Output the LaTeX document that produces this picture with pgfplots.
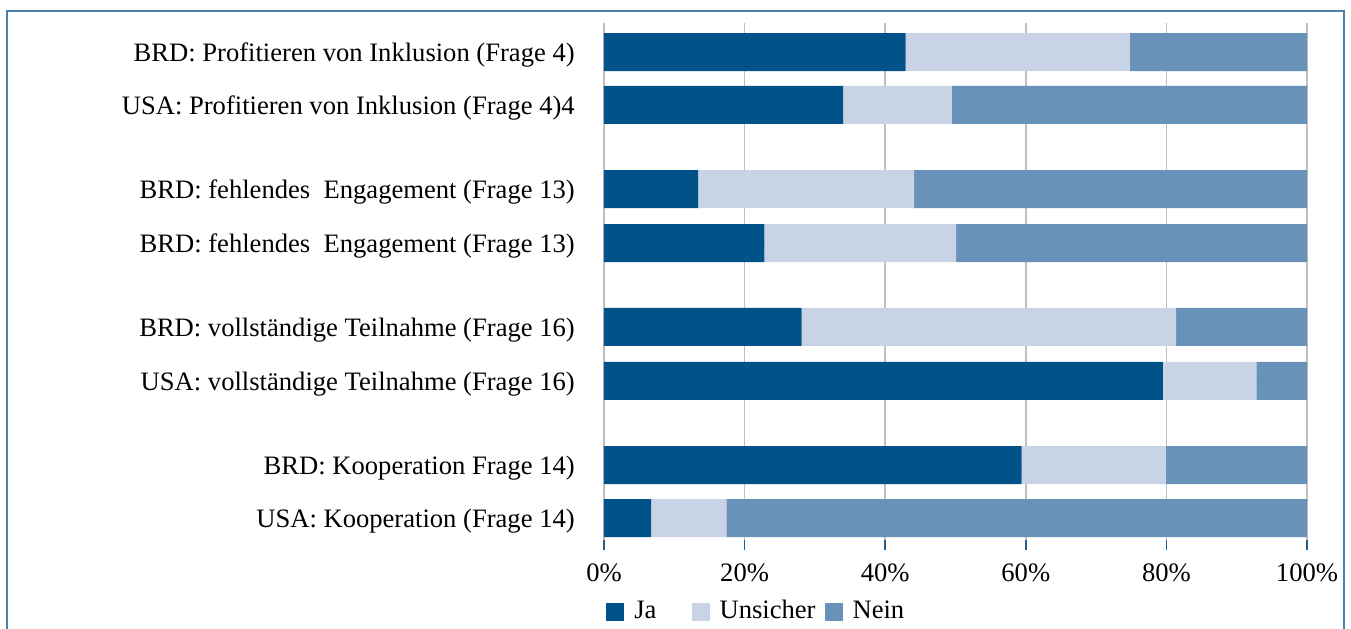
\documentclass[border=0pt]{standalone}
\usepackage{pgfplots}
\pgfplotsset{compat=1.18}
\usepackage{fontspec}
\setmainfont{Liberation Serif}
\definecolor{ja}{HTML}{005288}
\definecolor{uns}{HTML}{C8D4E5}
\definecolor{nein}{HTML}{6892BA}
\definecolor{grid}{HTML}{245C8C}
\definecolor{frame}{HTML}{4A82AE}
\begin{document}
\fontsize{13.3pt}{16pt}\selectfont
\begin{tikzpicture}
\path[use as bounding box] (0,0) rectangle (675.5pt,-314pt);
\draw[frame, line width=1pt] (3.25pt,-320pt) -- (3.25pt,-5.5pt) -- (672pt,-5.5pt) -- (672pt,-320pt);
\begin{axis}[
  at={(302pt,-270pt)}, anchor=south west,
  scale only axis, width=351.5pt, height=258.5pt,
  xbar stacked, bar width=19pt,
  xmin=0, xmax=100, ymin=-0.407, ymax=9.167,
  axis line style={draw=none},
  xtick={0,20,40,60,80,100},
  xticklabels={0\%,20\%,40\%,60\%,80\%,100\%},
  xmajorgrids, grid style={grid, line width=0.75pt},
  xtick pos=bottom, tick align=outside, major tick length=5pt,
  x tick style={grid, line width=0.75pt},
  y tick style={draw=none},
  ytick={0,0.98,2.54,3.54,5.09,6.09,7.65,8.63},
  yticklabels={USA: Kooperation (Frage 14),BRD: Kooperation Frage 14),USA: vollständige Teilnahme (Frage 16),BRD: vollständige Teilnahme (Frage 16),BRD: fehlendes~\ Engagement (Frage 13),BRD: fehlendes~\ Engagement (Frage 13),USA: Profitieren von Inklusion (Frage 4)4,BRD: Profitieren von Inklusion (Frage 4)},
  ytick pos=left,
  y tick label style={font=\fontsize{13.3pt}{16pt}\selectfont, xshift=-5pt, yshift=-1.5pt},
  x tick label style={font=\fontsize{13.3pt}{16pt}\selectfont, yshift=-2.5pt},
  legend style={draw=none, at={(0,0)}, anchor=north west, yshift=-26pt, xshift=-2pt,
    font=\fontsize{13.3pt}{16pt}\selectfont, legend columns=-1,
    /tikz/column 2/.style={column sep=15.5pt},
    /tikz/column 4/.style={column sep=2.5pt}},
  legend image code/.code={\fill[#1] (0pt,-4.5pt) rectangle (9pt,4.5pt); \path (12pt,0pt);},
]
\addplot[fill=ja, draw=none] coordinates {(6.7,0) (59.4,0.98) (79.5,2.54) (28.1,3.54) (22.8,5.09) (13.4,6.09) (34.0,7.65) (42.9,8.63)};
\addplot[fill=uns, draw=none] coordinates {(10.7,0) (20.5,0.98) (13.3,2.54) (53.3,3.54) (27.3,5.09) (30.7,6.09) (15.5,7.65) (31.9,8.63)};
\addplot[fill=nein, draw=none] coordinates {(82.6,0) (20.1,0.98) (7.2,2.54) (18.6,3.54) (49.9,5.09) (55.9,6.09) (50.5,7.65) (25.2,8.63)};
\legend{Ja,Unsicher,Nein}
\end{axis}
\end{tikzpicture}
\end{document}
